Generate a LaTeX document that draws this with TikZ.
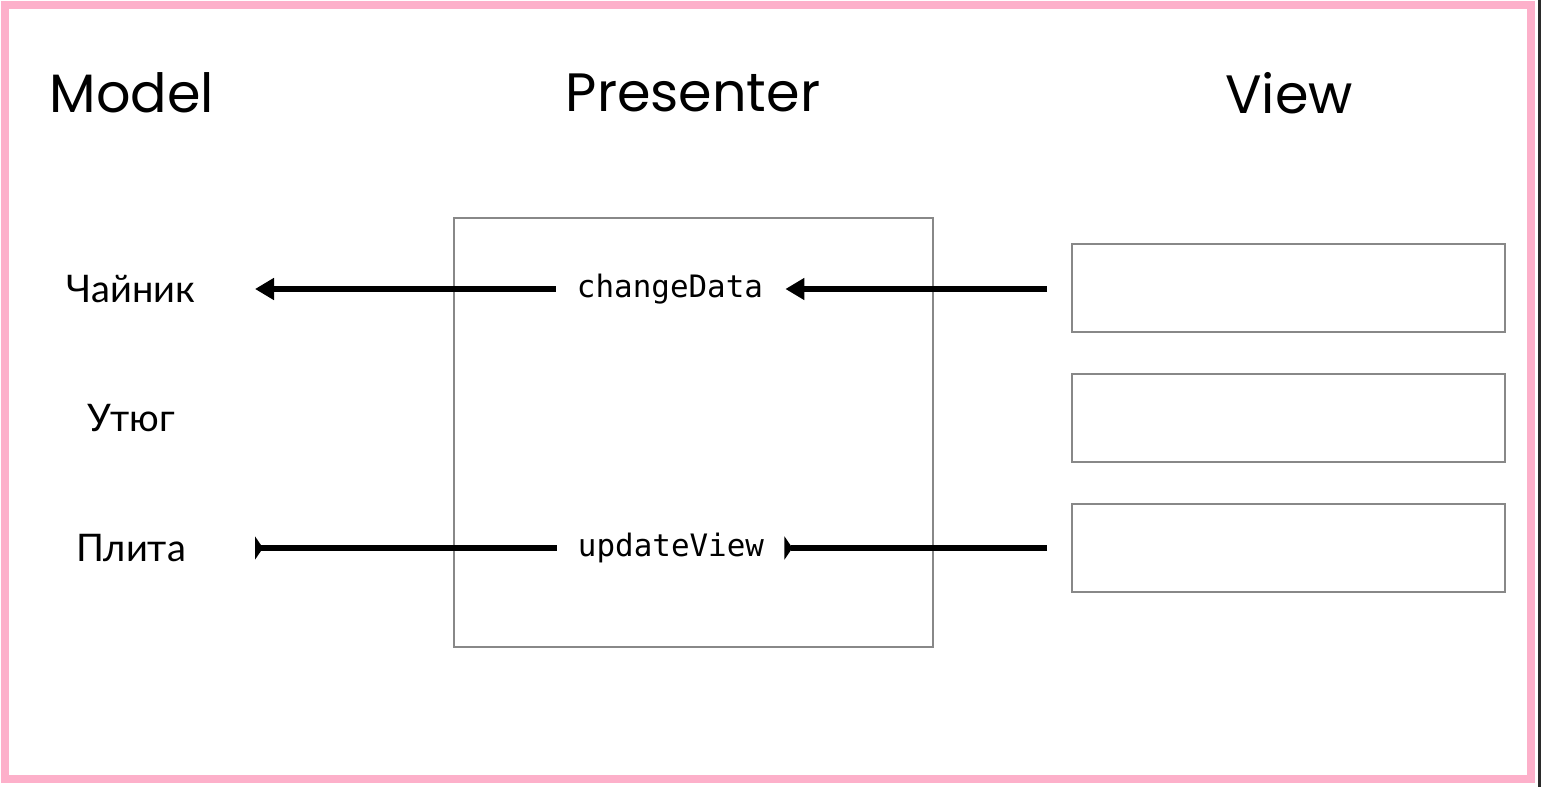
\documentclass[tikz,border=0pt]{standalone}
\usepackage{fontspec}
\setmainfont{Lato}
\setmonofont{DejaVu Sans Mono}
\newfontfamily\headfont{Poppins}
\usetikzlibrary{arrows.meta}
\definecolor{framepink}{HTML}{FDB0CA}
\definecolor{boxgray}{HTML}{888888}
\definecolor{edgedark}{HTML}{2B2B2B}

\begin{document}
\begin{tikzpicture}[x=0.5pt, y=-0.5pt,
    title/.style = {font=\headfont\fontsize{27}{32}\selectfont},
    item/.style = {font=\fontsize{19}{22}\selectfont, inner sep=0pt},
    method/.style = {font=\ttfamily\fontsize{15.45}{18}\selectfont, inner sep=0pt},
    panel/.style = {draw=boxgray, line width=1pt},
    viewbox/.style = {panel, minimum width=216.5pt, minimum height=44pt},
    callarrow/.style = {line width=3pt, -{Triangle[length=9.5pt, width=10.5pt]}},
    bararrow/.style = {line width=3pt, -{Triangle[reversed, length=4pt, width=11.5pt]}}]
	\useasboundingbox (0,0) rectangle (1541,787);
	\fill[edgedark] (1538,0) rectangle (1541,787);
	\draw[framepink, line width=4pt] (5,5) rectangle (1531,779);

	\node[title] (model) at (132,93) {Model};
	\node[title] (presenter) at (693,93) {Presenter};
	\node[title] (view) at (1289,93) {View};

	\node[item] (kettle) at (131,289) {Чайник};
	\node[item] (iron) at (131,418) {Утюг};
	\node[item] (stove) at (131,548) {Плита};

	\node[panel, minimum width=239.5pt, minimum height=214.5pt] (pbox) at (693.5,432.5) {};
	\node[method] (change) at (670,289) {changeData};
	\node[method] (update) at (671,548) {updateView};

	\node[viewbox] (view1) at (1288.5,288) {};
	\node[viewbox] (view2) at (1288.5,418) {};
	\node[viewbox] (view3) at (1288.5,548) {};

	\draw[callarrow, shorten <=10.5pt, shorten >=62pt] (change.west) -- (kettle.center);
	\draw[callarrow, shorten <=12pt, shorten >=11pt] (view1.west |- change) -- (change.east);
	\draw[bararrow, shorten <=10.5pt, shorten >=62pt] (update.west) -- (stove.center);
	\draw[bararrow, shorten <=12pt, shorten >=10pt] (view3.west |- update) -- (update.east);
\end{tikzpicture}
\end{document}
